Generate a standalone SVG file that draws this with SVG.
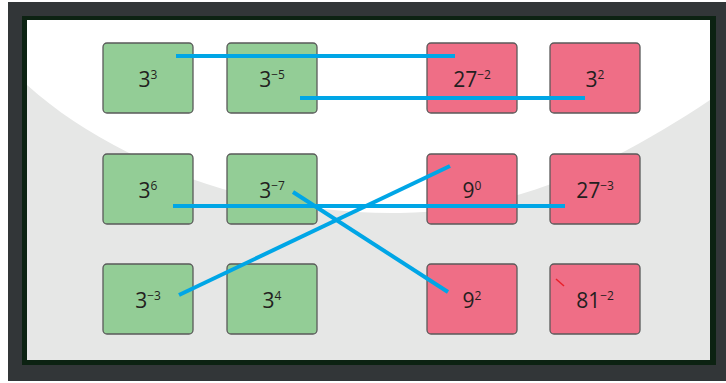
<svg xmlns="http://www.w3.org/2000/svg" width="726" height="383" viewBox="0 0 726 383">
<style>
.g rect{fill:#93cd96;stroke:#5a5a5a;stroke-width:1.3}
.p rect{fill:#ef6e86;stroke:#5a5a5a;stroke-width:1.3}
text{font-family:"Open Sans","Liberation Sans",sans-serif;font-size:21px;fill:#231f20;text-anchor:middle}
.s{font-size:12px}
.c line{stroke:#00a6e6;stroke-width:4;stroke-linecap:butt}
</style>
<rect x="0" y="0" width="726" height="383" fill="#ffffff"/>
<rect x="8" y="2" width="718" height="379" fill="#323638"/>
<rect x="22" y="16" width="694" height="349" fill="#0c2212"/>
<rect x="27" y="20" width="683" height="340" fill="#e6e7e6"/>
<path d="M27,20 L710,20 L710,100 C620,160 520,211 400,213 C250,215 110,160 27,85 Z" fill="#ffffff"/>
<g id="n1" class="g"><rect x="103" y="43" width="90" height="70" rx="4"/><text x="148" y="87">3<tspan class="s" dy="-8">3</tspan></text></g>
<g id="n2" class="g"><rect x="227" y="43" width="90" height="70" rx="4"/><text x="272" y="87">3<tspan class="s" dy="-8">−5</tspan></text></g>
<g id="n3" class="p"><rect x="427" y="43" width="90" height="70" rx="4"/><text x="472" y="87">27<tspan class="s" dy="-8">−2</tspan></text></g>
<g id="n4" class="p"><rect x="550" y="43" width="90" height="70" rx="4"/><text x="595" y="87">3<tspan class="s" dy="-8">2</tspan></text></g>
<g id="n5" class="g"><rect x="103" y="154" width="90" height="70" rx="4"/><text x="148" y="198">3<tspan class="s" dy="-8">6</tspan></text></g>
<g id="n6" class="g"><rect x="227" y="154" width="90" height="70" rx="4"/><text x="272" y="198">3<tspan class="s" dy="-8">−7</tspan></text></g>
<g id="n7" class="p"><rect x="427" y="154" width="90" height="70" rx="4"/><text x="472" y="198">9<tspan class="s" dy="-8">0</tspan></text></g>
<g id="n8" class="p"><rect x="550" y="154" width="90" height="70" rx="4"/><text x="595" y="198">27<tspan class="s" dy="-8">−3</tspan></text></g>
<g id="n9" class="g"><rect x="103" y="264" width="90" height="70" rx="4"/><text x="148" y="308">3<tspan class="s" dy="-8">−3</tspan></text></g>
<g id="n10" class="g"><rect x="227" y="264" width="90" height="70" rx="4"/><text x="272" y="308">3<tspan class="s" dy="-8">4</tspan></text></g>
<g id="n11" class="p"><rect x="427" y="264" width="90" height="70" rx="4"/><text x="472" y="308">9<tspan class="s" dy="-8">2</tspan></text></g>
<g id="n12" class="p"><rect x="550" y="264" width="90" height="70" rx="4"/><text x="595" y="308">81<tspan class="s" dy="-8">−2</tspan></text><line x1="556" y1="279" x2="564" y2="286" stroke="#e8202a" stroke-width="1.5"/></g>
<g id="connectors" class="c">
<line x1="176" y1="56" x2="455" y2="56"/>
<line x1="300" y1="98" x2="585" y2="98"/>
<line x1="173" y1="206" x2="565" y2="206"/>
<line x1="293" y1="192" x2="448" y2="292"/>
<line x1="179" y1="295" x2="450" y2="166"/>
</g>
</svg>
